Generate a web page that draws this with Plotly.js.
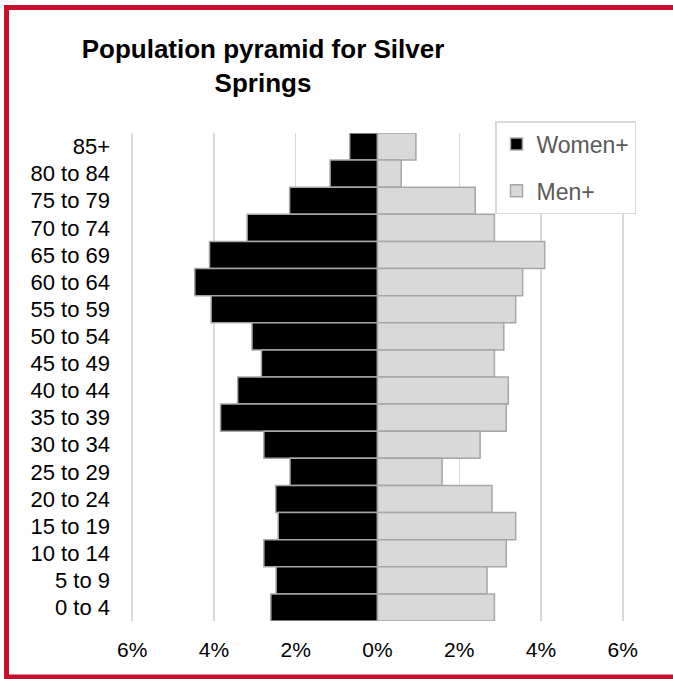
<!DOCTYPE html>
<html>
<head>
<meta charset="utf-8">
<script src="https://cdn.plot.ly/plotly-3.0.1.min.js"></script>
<style>
  html, body { margin: 0; padding: 0; background: #ffffff; }
  #chart { width: 673px; height: 679px; }
</style>
</head>
<body>
<div id="chart"></div>
<script>
// Age groups, top to bottom as shown in the chart
const ageGroups = ["85+", "80 to 84", "75 to 79", "70 to 74", "65 to 69", "60 to 64",
  "55 to 59", "50 to 54", "45 to 49", "40 to 44", "35 to 39", "30 to 34",
  "25 to 29", "20 to 24", "15 to 19", "10 to 14", "5 to 9", "0 to 4"];

// Share of population (%)
const womenPct = [0.68, 1.16, 2.15, 3.19, 4.11, 4.47, 4.07, 3.07, 2.84, 3.42,
  3.84, 2.78, 2.14, 2.49, 2.43, 2.78, 2.48, 2.61];
const menPct = [0.94, 0.58, 2.39, 2.86, 4.09, 3.55, 3.38, 3.09, 2.86, 3.20,
  3.15, 2.51, 1.58, 2.80, 3.38, 3.15, 2.68, 2.86];

const tickValues = [-6, -4, -2, 0, 2, 4, 6];
const tickLabels = ["6%", "4%", "2%", "0%", "2%", "4%", "6%"];

const seriesNames = ["Women+", "Men+"];

const L = 131, R = 624, T = 133, B = 621, W = 673, H = 679;
const px2x = p => (p - L) / (R - L);
const px2y = p => (B - p) / (B - T);

const traces = [
  {
    type: "bar",
    orientation: "h",
    name: seriesNames[0],
    legendgroup: "w",
    y: ageGroups,
    x: womenPct.map(v => -v),
    marker: { color: "#000000", line: { color: "#a6a6a6", width: 1.5 } },
    hoverinfo: "skip"
  },
  {
    type: "bar",
    orientation: "h",
    name: seriesNames[1],
    legendgroup: "m",
    y: ageGroups,
    x: menPct,
    marker: { color: "#d9d9d9", line: { color: "#a6a6a6", width: 1.5 } },
    hoverinfo: "skip"
  }
];

const layout = {
  width: W,
  height: H,
  margin: { l: L, r: W - R, t: T, b: H - B, pad: 0 },
  paper_bgcolor: "#ffffff",
  plot_bgcolor: "#ffffff",
  font: { family: "Liberation Sans, Arial, sans-serif", color: "#000000" },
  title: {
    text: "Population pyramid for Silver<br>Springs",
    font: { family: "Liberation Sans, Arial, sans-serif", size: 26, color: "#000000", weight: "bold" },
    x: 263 / W,
    xanchor: "center",
    xref: "container",
    y: 1 - 58 / H,
    yanchor: "top",
    yref: "container"
  },
  barmode: "relative",
  bargap: 0,
  showlegend: true,
  legend: {
    x: px2x(495),
    y: px2y(121),
    xanchor: "left",
    yanchor: "top",
    bgcolor: "#ffffff",
    bordercolor: "#d9d9d9",
    borderwidth: 1.5,
    font: { size: 23, color: "#595959" },
    tracegroupgap: 14,
    traceorder: "grouped"
  },
  xaxis: {
    range: [-6.03, 6.03],
    tickvals: tickValues,
    ticktext: tickLabels,
    showgrid: true,
    gridcolor: "#d9d9d9",
    gridwidth: 1.5,
    zeroline: false,
    showline: false,
    ticks: "",
    ticklabelstandoff: 14,
    tickfont: { size: 21, color: "#000000" },
    fixedrange: true
  },
  yaxis: {
    type: "category",
    autorange: "reversed",
    showgrid: false,
    zeroline: false,
    showline: false,
    ticks: "",
    ticklabelstandoff: 20,
    tickfont: { size: 22, color: "#000000" },
    fixedrange: true
  },
  shapes: [
    { type: "line", xref: "paper", yref: "paper", x0: px2x(6.5), x1: px2x(6.5), y0: px2y(5), y1: px2y(679), line: { color: "#c8102e", width: 5 } },
    { type: "line", xref: "paper", yref: "paper", x0: px2x(4), x1: px2x(680), y0: px2y(7.5), y1: px2y(7.5), line: { color: "#c8102e", width: 5 } },
    { type: "line", xref: "paper", yref: "paper", x0: px2x(4), x1: px2x(680), y0: px2y(677), y1: px2y(677), line: { color: "#c8102e", width: 5 } }
  ]
};

Plotly.newPlot("chart", traces, layout, { displayModeBar: false, staticPlot: true });
</script>
</body>
</html>
